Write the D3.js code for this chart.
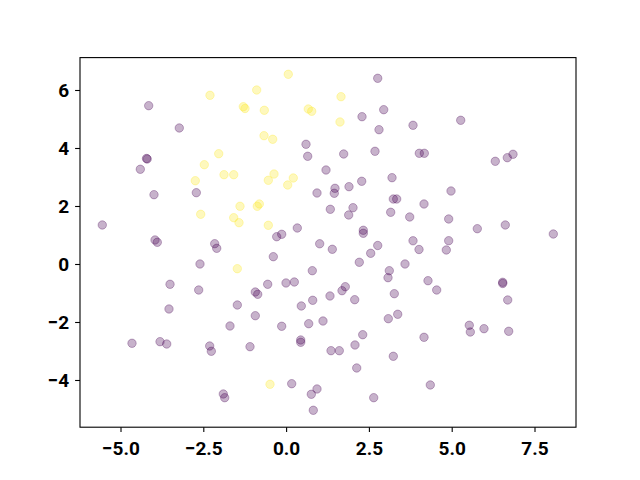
<!DOCTYPE html>
<html>
<head>
<meta charset="utf-8">
<script src="https://cdn.jsdelivr.net/npm/d3@7"></script>
<style>
  html, body { margin: 0; padding: 0; background: #fff; }
  .tick text { font-family: Roboto, "Liberation Sans", sans-serif; font-weight: bold; font-size: 19px; fill: #000; }
</style>
</head>
<body>
<div id="chart"></div>
<script>
// 数据 - 两组散点 (类别 0 = 紫色, 类别 1 = 黄色)
const purpleX = [-4.149, -3.225, -4.215, -4.194, -4.402, -2.711, -3.989, -5.550, -3.958, -3.889,
  -2.156, -2.095, 2.766, 2.947, 2.292, 2.805, 3.832, 0.601, 0.652, 1.739,
  2.684, 4.022, 4.173, 5.272, 1.205, 3.198, 2.283, 1.476, 1.455, 1.899,
  0.933, 3.237, 3.339, 1.335, 2.020, 1.890, 3.158, 3.732, 0.338, -0.133,
  -0.284, 2.331, 2.331, 1.014, 3.832, 2.766, 6.316, 6.679, 6.851, 4.979,
  4.164, 4.909, 5.773, 6.618, 8.068, 4.909, -2.600, -3.505, -2.639, -1.473,
  -3.536, -1.694, -4.653, -3.807, -3.605, -2.307, -2.258, -1.090, -1.896, -1.854,
  1.395, 2.554, 4.013, 4.837, -0.386, 0.791, 2.210, 3.116, 3.077, 3.590,
  -0.556, -0.003, 0.248, -0.930, -0.857, 1.787, 1.688, 1.325, 0.803, 2.071,
  3.267, 0.459, -0.930, -0.133, 0.682, 1.114, 3.086, 3.370, 2.313, 0.441,
  0.441, 1.356, 1.606, 2.080, 3.237, 2.132, 4.164, 0.169, 0.933, 0.761,
  2.645, 0.821, 4.284, 4.547, 6.540, 6.540, 6.691, 5.531, 5.562, 5.975,
  6.721, 4.354];
const purpleY = [5.459, 4.690, 3.638, 3.621, 3.266, 2.459, 2.390, 1.345, 0.828, 0.748,
  0.700, 0.541, 6.403, 5.321, 5.079, 4.631, 4.783, 4.128, 3.714, 3.793,
  3.886, 3.817, 3.817, 4.955, 3.241, 2.976, 2.852, 2.610, 2.438, 2.666,
  2.448, 2.241, 2.241, 1.886, 1.941, 1.690, 1.783, 1.621, 1.241, 1.024,
  0.941, 1.162, 1.059, 0.697, 0.800, 0.638, 3.541, 3.666, 3.783, 2.517,
  2.069, 1.552, 1.217, 1.345, 1.034, 0.803, 0.000, -0.700, -0.897, -1.414,
  -1.552, -2.138, -2.734, -2.679, -2.759, -2.828, -3.010, -2.852, -4.483, -4.610,
  0.507, 0.369, 0.500, 0.483, 0.252, -0.231, 0.059, -0.231, -0.472, 0.000,
  -0.700, -0.655, -0.621, -0.966, -1.045, -0.783, -0.921, -1.103, -1.252, -1.231,
  -1.024, -1.448, -1.783, -2.148, -2.059, -1.966, -1.886, -1.734, -2.438, -2.621,
  -2.700, -2.990, -2.990, -2.793, -3.183, -3.586, -2.528, -4.128, -4.310, -4.493,
  -4.610, -5.045, -0.576, -0.897, -0.631, -0.672, -1.241, -2.114, -2.345, -2.231,
  -2.321, -4.172];

const yellowX = [-2.298, -1.292, -1.241, -2.035, -2.470, -1.875, -1.582, -2.742, -1.392, -2.579,
  -1.582, -1.422, 0.066, -0.888, 1.658, -0.658, 0.670, 0.773, 1.627, -0.667,
  -0.405, -0.365, -0.537, 0.217, 0.048, -0.809, -0.870, -0.537, -1.473, -0.486];
const yellowY = [5.817, 5.424, 5.362, 3.803, 3.424, 3.079, 3.079, 2.872, 1.990, 1.714,
  1.597, 1.424, 6.541, 6.000, 5.769, 5.300, 5.345, 5.266, 4.897, 4.424,
  4.300, 3.103, 2.886, 2.966, 2.724, 2.069, 1.990, 1.334, -0.162, -4.148];

const xTicks = [-5, -2.5, 0, 2.5, 5, 7.5];
const yTicks = [-4, -2, 0, 2, 4, 6];

// 画布与坐标区 (与 matplotlib 默认布局一致)
const W = 640, H = 480;
const plot = { left: 80, right: 576, top: 57.6, bottom: 427.2 };

const svg = d3.select("#chart").append("svg")
    .attr("width", W)
    .attr("height", H);

const xScale = d3.scaleLinear().domain([-6.223, 8.753]).range([plot.left, plot.right]);
const yScale = d3.scaleLinear().domain([-5.628, 7.117]).range([plot.bottom, plot.top]);

const fmtX = d => d3.format(".1f")(d).replace("-", "\u2212");
const fmtY = d => String(d).replace("-", "\u2212");

// 散点
function drawPoints(xs, ys, color) {
    const pts = xs.map((x, i) => ({ x, y: ys[i] }));
    svg.append("g")
        .selectAll("circle")
        .data(pts)
        .enter().append("circle")
        .attr("cx", d => xScale(d.x))
        .attr("cy", d => yScale(d.y))
        .attr("r", 4.2)
        .attr("fill", color)
        .attr("fill-opacity", 0.3)
        .attr("stroke", color)
        .attr("stroke-opacity", 0.3)
        .attr("stroke-width", 1);
}
drawPoints(purpleX, purpleY, "#440154");
drawPoints(yellowX, yellowY, "#fde725");

// 坐标轴
svg.append("g")
    .attr("transform", `translate(0,${plot.bottom})`)
    .call(d3.axisBottom(xScale).tickValues(xTicks).tickFormat(fmtX).tickSizeOuter(0).tickSize(4.9).tickPadding(9));
svg.append("g")
    .attr("transform", `translate(${plot.left},0)`)
    .call(d3.axisLeft(yScale).tickValues(yTicks).tickFormat(fmtY).tickSizeOuter(0).tickSize(4.9).tickPadding(6));

svg.selectAll(".domain").remove();
svg.selectAll(".tick line").attr("stroke", "#000").attr("stroke-width", 1.1);

// 边框
svg.append("rect")
    .attr("x", plot.left)
    .attr("y", plot.top)
    .attr("width", plot.right - plot.left)
    .attr("height", plot.bottom - plot.top)
    .attr("fill", "none")
    .attr("stroke", "#000")
    .attr("stroke-width", 1.1);
</script>
</body>
</html>
